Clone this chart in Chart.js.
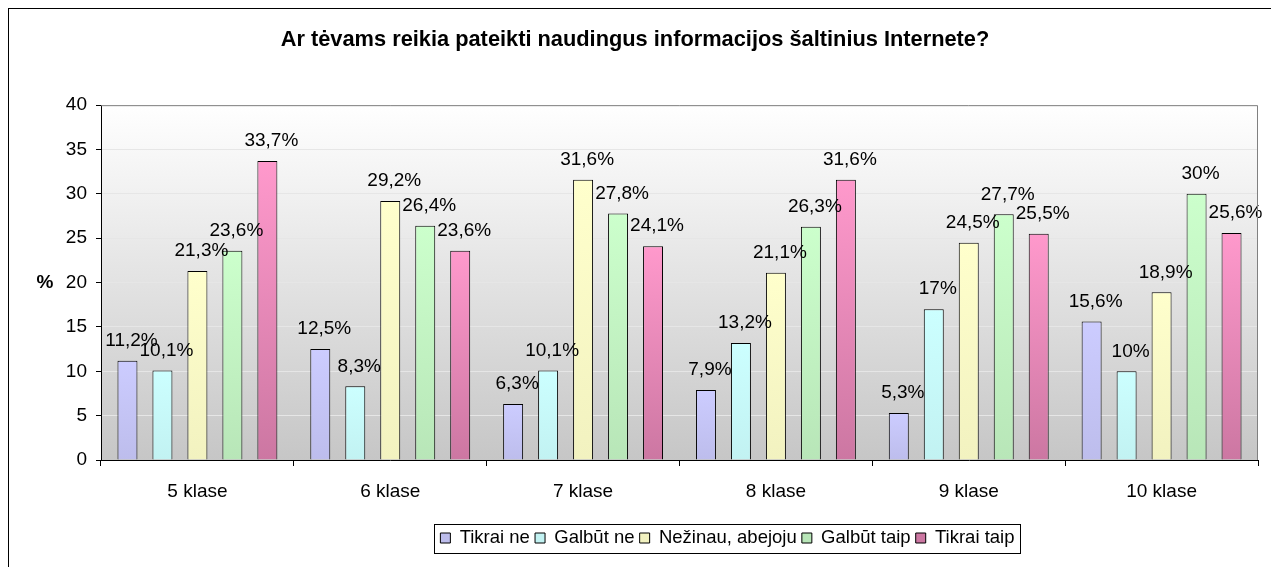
<!DOCTYPE html>
<html>
<head>
<meta charset="utf-8">
<script src="https://cdn.jsdelivr.net/npm/chart.js@4/dist/chart.umd.min.js"></script>
<style>
    html, body { margin: 0; padding: 0; background: #ffffff; }
    #wrap { width: 1271px; height: 567px; }
</style>
</head>
<body>
<div id="wrap"><canvas id="parentsChart" width="1271" height="567"></canvas></div>
<script>
const categories = ['5 klase', '6 klase', '7 klase', '8 klase', '9 klase', '10 klase'];
const seriesNames = ['Tikrai ne', 'Galbūt ne', 'Nežinau, abejoju', 'Galbūt taip', 'Tikrai taip'];
const tikraiNe = [11.2, 12.5, 6.3, 7.9, 5.3, 15.6];
const galbutNe = [10.1, 8.3, 10.1, 13.2, 17, 10];
const nezinau = [21.3, 29.2, 31.6, 21.1, 24.5, 18.9];
const galbutTaip = [23.6, 26.4, 27.8, 26.3, 27.7, 30];
const tikraiTaip = [33.7, 23.6, 24.1, 31.6, 25.5, 25.6];
const yTicks = [0, 5, 10, 15, 20, 25, 30, 35, 40];

(function () {
    const font = "'Liberation Sans', Arial, sans-serif";
    const seriesValues = [tikraiNe, galbutNe, nezinau, galbutTaip, tikraiTaip];
    // top / bottom colours of each bar gradient
    const fills = [
        ['#ccccff', '#bdbdec'],
        ['#ccffff', '#c2f2f2'],
        ['#ffffcc', '#f2f2c0'],
        ['#ccffcc', '#b8e6b8'],
        ['#ff99cc', '#cc77a2']
    ];
    const legendCenterX = 730;
    const titleShift = 6;

    function barFill(i) {
        return function (ctx) {
            if (ctx.type !== 'data') {
                return fills[i][0];
            }
            const y = ctx.chart.scales.y;
            const top = y.getPixelForValue(ctx.raw);
            const bottom = y.getPixelForValue(0);
            if (!isFinite(top) || !isFinite(bottom) || top === bottom) {
                return fills[i][0];
            }
            const g = ctx.chart.ctx.createLinearGradient(0, top, 0, bottom);
            g.addColorStop(0, fills[i][0]);
            g.addColorStop(1, fills[i][1]);
            return g;
        };
    }

    const framePlugin = {
        id: 'frame',
        afterLayout(chart) {
            // legend sits right of centre in the original
            const legend = chart.legend;
            const dx = legendCenterX - (legend.left + legend.right) / 2;
            legend.left += dx;
            legend.right += dx;
            chart.titleBlock.left += titleShift;
            chart.titleBlock.right += titleShift;
        },
        beforeDraw(chart) {
            const c = chart.ctx;
            const a = chart.chartArea;
            c.save();
            const bg = c.createLinearGradient(0, a.top, 0, a.bottom);
            bg.addColorStop(0, '#ffffff');
            bg.addColorStop(1, '#c6c6c6');
            c.fillStyle = bg;
            c.fillRect(a.left, a.top, a.right - a.left, a.bottom - a.top);
            c.strokeStyle = '#000000';
            c.lineWidth = 1;
            c.strokeRect(8.5, 8.5, chart.width + 20, chart.height + 20);
            c.restore();
        },
        afterDraw(chart) {
            const c = chart.ctx;
            const a = chart.chartArea;
            c.save();
            c.strokeStyle = '#808080';
            c.lineWidth = 1;
            c.beginPath();
            c.moveTo(a.left, a.top + 0.5);
            c.lineTo(a.right - 0.5, a.top + 0.5);
            c.lineTo(a.right - 0.5, a.bottom);
            c.stroke();

            // "%" axis title, kept upright
            c.fillStyle = '#000000';
            c.font = 'bold 19px ' + font;
            c.textAlign = 'center';
            c.textBaseline = 'middle';
            c.fillText('%', 45, (a.top + a.bottom) / 2);

            // box round the legend
            const boxes = chart.legend.legendHitBoxes;
            if (boxes && boxes.length) {
                const left = Math.min(...boxes.map((b) => b.left)) - 6;
                const right = Math.max(...boxes.map((b) => b.left + b.width)) + 1;
                const top = Math.min(...boxes.map((b) => b.top)) - 5;
                const bottom = Math.max(...boxes.map((b) => b.top + b.height)) + 5;
                c.strokeStyle = '#000000';
                c.strokeRect(Math.round(left) + 0.5, Math.round(top) + 0.5, Math.round(right - left), Math.round(bottom - top));
            }
            c.restore();
        }
    };

    const valueLabels = {
        id: 'valueLabels',
        afterDatasetsDraw(chart) {
            const c = chart.ctx;
            c.save();
            c.font = '19px ' + font;
            c.fillStyle = '#000000';
            c.textAlign = 'center';
            c.textBaseline = 'middle';
            chart.data.datasets.forEach((ds, i) => {
                chart.getDatasetMeta(i).data.forEach((bar, j) => {
                    const text = String(ds.data[j]).replace('.', ',') + '%';
                    c.fillText(text, bar.x + 4, bar.y - 20);
                });
            });
            c.restore();
        }
    };

    new Chart(document.getElementById('parentsChart'), {
        type: 'bar',
        data: {
            labels: categories,
            datasets: seriesNames.map((name, i) => ({
                label: name,
                data: seriesValues[i],
                backgroundColor: barFill(i),
                borderColor: '#000000',
                borderWidth: 1,
                categoryPercentage: 0.907,
                barPercentage: 0.571
            }))
        },
        options: {
            responsive: false,
            animation: false,
            layout: { padding: { top: 0, right: 13, bottom: 9.75, left: 0 } },
            plugins: {
                title: {
                    display: true,
                    text: 'Ar tėvams reikia pateikti naudingus informacijos šaltinius Internete?',
                    color: '#000000',
                    font: { family: font, size: 21.8, weight: 'bold' },
                    padding: { top: 27, bottom: 52 }
                },
                legend: {
                    position: 'bottom',
                    labels: {
                        color: '#000000',
                        font: { family: font, size: 18.5 },
                        boxWidth: 10,
                        boxHeight: 10,
                        padding: 0,
                        generateLabels(chart) {
                            const items = Chart.defaults.plugins.legend.labels.generateLabels(chart);
                            items.forEach((item) => { item.text = item.text + ' '; });
                            return items;
                        }
                    }
                },
                tooltip: { enabled: false }
            },
            scales: {
                x: {
                    afterFit(scale) { scale.height = 68.75; },
                    grid: { drawOnChartArea: false, drawTicks: true, tickLength: 6, tickColor: '#000000', offset: true },
                    border: { color: '#000000' },
                    ticks: { color: '#000000', font: { family: font, size: 19 }, padding: 14, maxRotation: 0 }
                },
                y: {
                    min: 0,
                    max: 40,
                    afterFit(scale) { scale.width = 101; },
                    afterBuildTicks(scale) { scale.ticks = yTicks.map((v) => ({ value: v })); },
                    grid: { color: '#e6e6e6', tickLength: 5, tickColor: '#000000' },
                    border: { color: '#000000' },
                    ticks: { color: '#000000', font: { family: font, size: 19 }, padding: 9 }
                }
            }
        },
        plugins: [framePlugin, valueLabels]
    });
})();
</script>
</body>
</html>
